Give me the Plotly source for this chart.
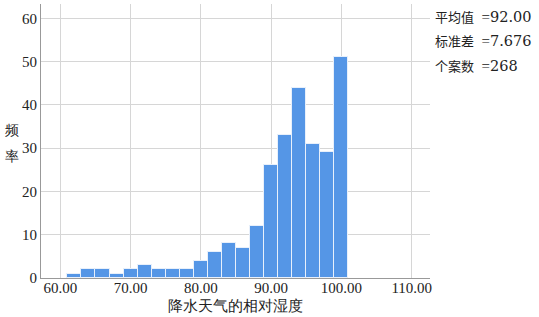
import plotly.graph_objects as go

# Histogram bins (lower edges, width 2) and counts
bin_starts = [61, 63, 65, 67, 69, 71, 73, 75, 77, 79, 81, 83, 85, 87, 89, 91, 93, 95, 97, 99]
counts = [1, 2, 2, 1, 2, 3, 2, 2, 2, 4, 6, 8, 7, 12, 26, 33, 44, 31, 29, 51]
bin_width = 2
x_ticks = [60, 70, 80, 90, 100, 110]
y_ticks = [0, 10, 20, 30, 40, 50, 60]
stats_labels = ["平均值", "标准差", "个案数"]
stats_values = ["92.00", "7.676", "268"]
x_title = "降水天气的相对湿度"
y_title_chars = ["频", "率"]

FONT = "Liberation Serif"

centers = [s + bin_width / 2 for s in bin_starts]

fig = go.Figure()
fig.add_trace(go.Bar(
    x=centers, y=counts, width=[bin_width] * len(centers),
    marker=dict(color="#5596E6", line=dict(color="#E8F0FB", width=1)),
    hoverinfo="x+y",
))

fig.update_layout(
    width=539, height=317,
    margin=dict(l=41, r=109, t=4, b=39),
    paper_bgcolor="white", plot_bgcolor="white",
    showlegend=False,
    font=dict(family=FONT, size=15, color="#222"),
    bargap=0,
)
fig.update_xaxes(
    range=[57.25, 112.6], tickvals=x_ticks, tickformat=".2f",
    showgrid=True, gridcolor="#d6d6d6", gridwidth=1,
    showline=True, linecolor="#999", linewidth=1,
    ticks="", zeroline=False, ticklabelstandoff=-4,
)
fig.update_yaxes(
    range=[0, 63.3], tickvals=y_ticks,
    showgrid=True, gridcolor="#d6d6d6", gridwidth=1,
    showline=True, linecolor="#999", linewidth=1,
    ticks="", zeroline=False,
)

fig.add_annotation(text=x_title, xref="paper", yref="paper", x=0.5, y=0,
                   yshift=-28, yanchor="middle", showarrow=False,
                   font=dict(family=FONT, size=15, color="#222"))
for i, ch in enumerate(y_title_chars):
    fig.add_annotation(text=ch, xref="paper", yref="paper", x=0, y=1,
                       xshift=-29, yshift=-126 - 26 * i,
                       xanchor="center", yanchor="middle", showarrow=False,
                       font=dict(family=FONT, size=14, color="#222"))

for i, (lab, val) in enumerate(zip(stats_labels, stats_values)):
    txt = (f'<span style="font-family:Noto Sans CJK SC;font-size:13px">{lab}</span>'
           f'<span style="font-family:Liberation Serif;font-size:15px">&nbsp;&nbsp;=</span>'
           f'<span style="font-family:DejaVu Serif;font-size:14.5px">{val}</span>')
    fig.add_annotation(text=txt, xref="paper", yref="paper",
                       x=1, xshift=3, y=1, yshift=-12 - 24.8 * i,
                       xanchor="left", yanchor="middle", showarrow=False,
                       font=dict(family=FONT, size=15, color="#222"))

fig.write_html("out.html", config={"displayModeBar": False},
               post_script="document.body.style.margin='0';")
